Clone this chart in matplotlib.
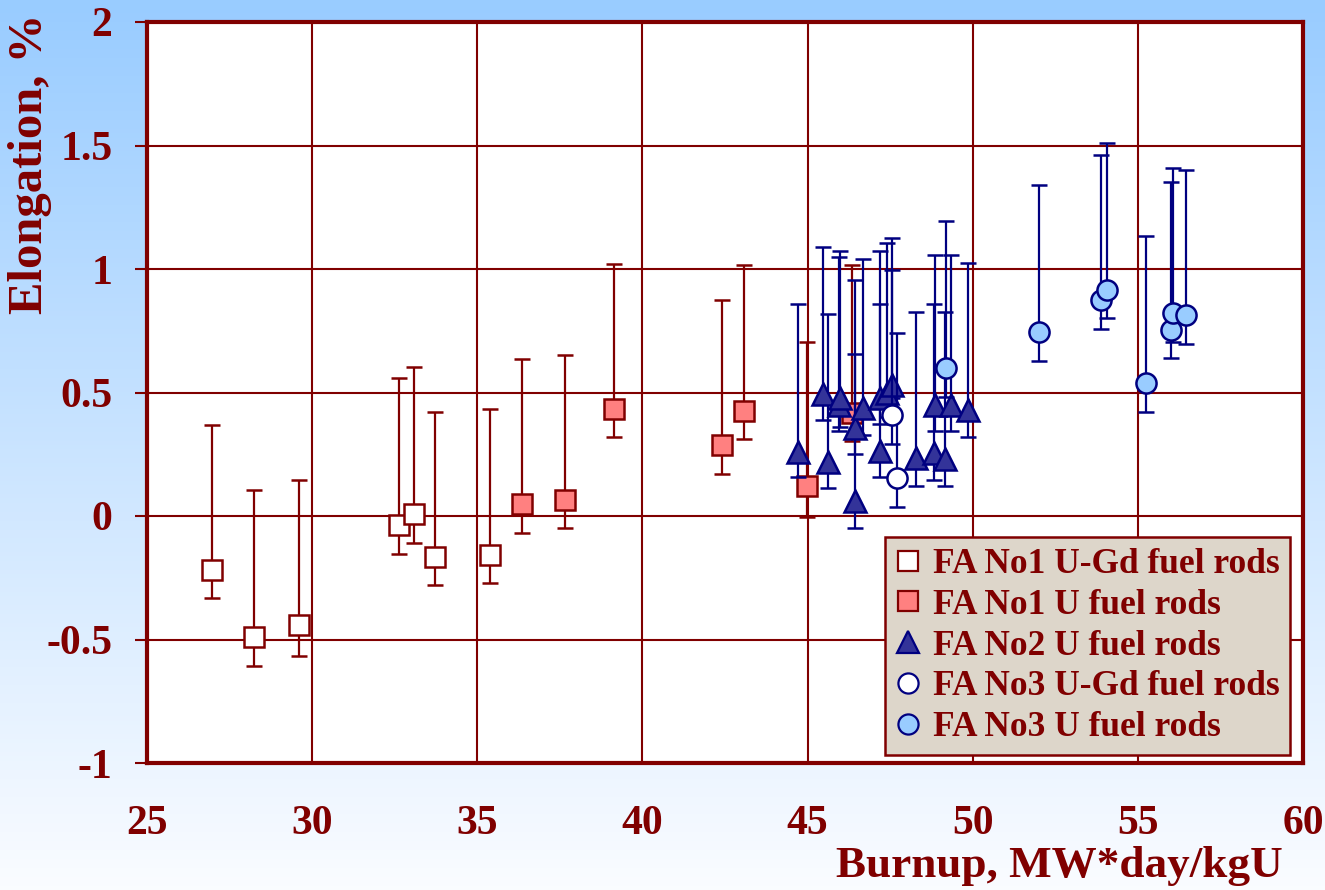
import numpy as np
import matplotlib
matplotlib.use('Agg')
import matplotlib.pyplot as plt
from matplotlib.lines import Line2D

# FA No1 U-Gd fuel rods
ugd1_x = [26.96, 28.25, 29.6, 32.62, 33.07, 33.73, 35.4]
ugd1_y = [-0.22, -0.49, -0.44, -0.035, 0.008, -0.166, -0.157]
ugd1_hi = [0.37, 0.104, 0.147, 0.557, 0.602, 0.423, 0.432]
ugd1_lo = [-0.331, -0.606, -0.565, -0.152, -0.109, -0.281, -0.27]

# FA No1 U fuel rods
u1_x = [36.36, 37.65, 39.13, 42.42, 43.07, 44.99, 46.34]
u1_y = [0.048, 0.066, 0.435, 0.288, 0.425, 0.121, 0.416]
u1_hi = [0.637, 0.653, 1.022, 0.876, 1.015, 0.705, 1.015]
u1_lo = [-0.067, -0.05, 0.319, 0.172, 0.31, -0.005, 0.304]

# FA No2 U fuel rods
u2_x = [44.71, 45.46, 45.61, 45.94, 45.99, 46.44, 46.44, 46.69, 47.2, 47.2,
        47.4, 47.55, 48.29, 48.82, 48.87, 49.15, 49.34, 49.85]
u2_y = [0.261, 0.493, 0.218, 0.45, 0.477, 0.358, 0.059, 0.436, 0.265, 0.477,
        0.5, 0.53, 0.234, 0.257, 0.45, 0.231, 0.45, 0.43]
u2_hi = [0.859, 1.09, 0.816, 1.049, 1.073, 0.955, 0.654, 1.039, 0.859, 1.073,
         1.107, 1.125, 0.824, 0.859, 1.058, 0.824, 1.058, 1.025]
u2_lo = [0.157, 0.388, 0.113, 0.346, 0.362, 0.25, -0.048, 0.328, 0.157, 0.372,
         0.4, 0.477, 0.122, 0.147, 0.346, 0.122, 0.346, 0.319]

# FA No3 U-Gd fuel rods
ugd3_x = [47.57, 47.71]
ugd3_y = [0.409, 0.153]
ugd3_hi = [0.995, 0.739]
ugd3_lo = [0.292, 0.038]

# FA No3 U fuel rods
u3_x = [49.19, 52.02, 53.88, 54.08, 55.24, 56.0, 56.05, 56.46]
u3_y = [0.598, 0.743, 0.874, 0.914, 0.537, 0.752, 0.823, 0.813]
u3_hi = [1.194, 1.34, 1.462, 1.51, 1.134, 1.352, 1.41, 1.401]
u3_lo = [0.48, 0.629, 0.757, 0.8, 0.423, 0.638, 0.706, 0.696]

labels = ["FA No1 U-Gd fuel rods", "FA No1 U fuel rods", "FA No2 U fuel rods",
          "FA No3 U-Gd fuel rods", "FA No3 U fuel rods"]

red = '#800000'
navy = '#000080'
font = 'Liberation Serif'

W, H = 1325, 890
fig = plt.figure(figsize=(W / 100, H / 100), dpi=100)

# blue to white gradient background
bg = fig.add_axes([0, 0, 1, 1], zorder=-10)
top = np.array([153, 204, 255]) / 255.
bot = np.array([250, 252, 255]) / 255.
t = np.linspace(0, 1, 200)[:, None]
grad = top * (1 - t) + bot * t
bg.imshow(grad[:, None, :], aspect='auto', extent=[0, 1, 0, 1])
bg.axis('off')

ax = fig.add_axes([147 / W, 1 - 763 / H, (1303 - 147) / W, (763 - 22) / H])
ax.set_facecolor('white')

series = [
    (ugd1_x, ugd1_y, ugd1_lo, ugd1_hi, 's', 'white', red, red, 14),
    (u1_x, u1_y, u1_lo, u1_hi, 's', '#FF8080', red, red, 14),
    (u2_x, u2_y, u2_lo, u2_hi, '^', '#333399', navy, navy, 15.5),
    (ugd3_x, ugd3_y, ugd3_lo, ugd3_hi, 'o', 'white', navy, navy, 14.5),
    (u3_x, u3_y, u3_lo, u3_hi, 'o', '#99CCFF', navy, navy, 14.5),
]

handles = []
for i, (x, y, lo, hi, m, fc, ec, lc, ms) in enumerate(series):
    y = np.array(y)
    yerr = [y - np.array(lo), np.array(hi) - y]
    ax.errorbar(x, y, yerr=yerr, fmt=m, ms=ms, mfc=fc, mec=ec, mew=1.8,
                ecolor=lc, elinewidth=1.6, capsize=5.8, capthick=1.6,
                zorder=3 + i)
    handles.append(Line2D([], [], ls='none', marker=m, ms=ms,
                          mfc=fc, mec=ec, mew=1.6))

ax.set_xlim(25, 60)
ax.set_ylim(-1, 2)
ax.set_xticks(np.arange(25, 61, 5))
ax.set_yticks(np.arange(-1, 2.01, 0.5))
ax.set_yticklabels(['-1', '-0.5', '0', '0.5', '1', '1.5', '2'])
ax.grid(True, color=red, lw=1.5, zorder=1)
ax.set_axisbelow(True)
for s in ax.spines.values():
    s.set_color(red)
    s.set_linewidth(3)

ax.tick_params(axis='y', direction='out', length=9, width=1.5, color=red,
               pad=16, labelsize=30, labelcolor=red)
ax.tick_params(axis='x', length=0, pad=30, labelsize=30, labelcolor=red)
for lab in ax.get_xticklabels() + ax.get_yticklabels():
    lab.set_fontfamily(font)
    lab.set_fontweight('bold')

fig.text(1283 / W, 1 - 866 / H, 'Burnup, MW*day/kgU', ha='right', va='center',
         fontsize=32.5, fontweight='bold', color=red, family=font)
fig.text(30 / W, 1 - 164 / H, 'Elongation, %', ha='center', va='center',
         rotation=90, fontsize=35, fontweight='bold', color=red, family=font)

leg = ax.legend(handles, labels, loc='lower right', bbox_to_anchor=(0.989, 0.011),
                borderaxespad=0, frameon=True, fancybox=False,
                facecolor='#DDD6CA', edgecolor=red, framealpha=1,
                prop={'family': font, 'weight': 'bold', 'size': 25.5},
                labelcolor=red, handlelength=0.7, handletextpad=0.35,
                labelspacing=0.22, borderpad=0.3)
leg.get_frame().set_linewidth(1.8)
leg.set_zorder(20)

fig.savefig('out.png', dpi=100)
